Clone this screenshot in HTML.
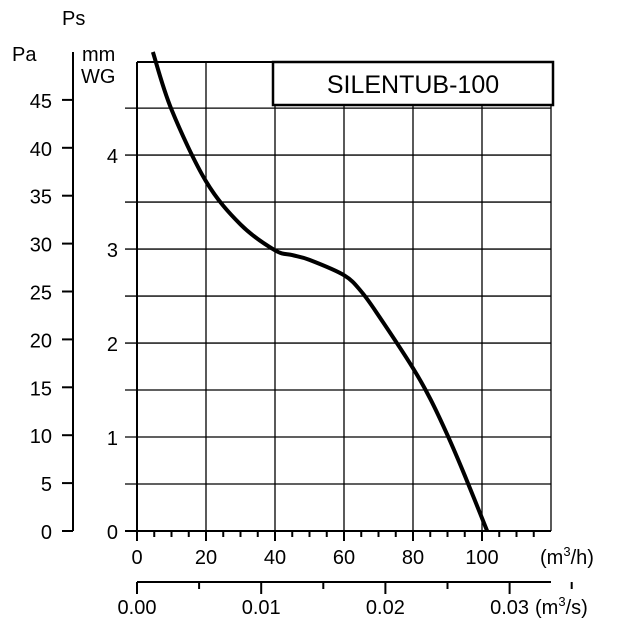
<!DOCTYPE html>
<html><head><meta charset="utf-8"><style>
body{margin:0;background:#fff}
svg text{font-family:"Liberation Sans",sans-serif;fill:#000}
</style></head><body>
<svg width="630" height="630" viewBox="0 0 630 630" id="c"></svg>
<script>
const flowTicks=[0,20,40,60,80,100];
const paTicks=[0,5,10,15,20,25,30,35,40,45];
const mmTicks=[0,1,2,3,4];
const m3sTicks=["0.00","0.01","0.02","0.03"];
const curveFlow=[4.6,10,20,30,40,45,50,60,65,70,80,85,90,95,101.5];
const curvePa=[50,44,36.5,32,29.3,28.8,28.3,26.7,25,22.5,17,13.8,10,5.8,0];
const X0=137,PXU=3.45,Y0=531,PXPA=9.58,MM=9.81;
const sx=v=>X0+v*PXU, sy=p=>Y0-p*PXPA;
const svg=document.getElementById('c');const NS='http://www.w3.org/2000/svg';
function el(t,a,txt){const e=document.createElementNS(NS,t);for(const k in a)e.setAttribute(k,a[k]);if(txt!==undefined)e.textContent=txt;svg.appendChild(e);return e;}
const L=(x1,y1,x2,y2,w,n)=>{const e=el('line',{x1,y1,x2,y2,stroke:'#000','stroke-width':w});return e;};
const T=(x,y,s,size,anchor,n)=>{const e=el('text',{x,y,'font-size':size,'text-anchor':anchor},s);return e;};
const plotTop=62,plotRight=551;
for(let m=0.5;m<5;m+=0.5){const y=sy(m*MM);L(125,y,plotRight,y,1.3,'grid-h');}
for(let i=1;i<=6;i++){const x=sx(i*20);L(x,plotTop,x,Y0,1.3,'grid-v');}
L(X0,plotTop,plotRight,plotTop,2,'plot-top');L(X0,plotTop,X0,Y0,2,'mm-axis');L(125,Y0,plotRight,Y0,2,'x-axis');
mmTicks.forEach(m=>{T(118,sy(m*MM)+8,String(m),20,'end','mm-tick-label');});
L(73,52,73,Y0,2,'pa-axis');
paTicks.forEach(p=>{L(62,sy(p),73,sy(p),2,'pa-tick');T(52,sy(p)+8,String(p),20,'end','pa-tick-label');});
T(12,61,'Pa',20,'start','pa-unit');T(62,25,'Ps',20,'start','ps-label');
T(82,61,'mm',20,'start','mm-unit');T(81,83,'WG',20,'start','wg-unit');
for(let v=0;v<=115;v+=5){L(sx(v),Y0,sx(v),Y0+(v%20===0?10:6),2,'flow-tick');}
flowTicks.forEach(v=>T(sx(v),564,String(v),20,'middle','flow-tick-label'));
const u1=T(540,564,'',20,'start','flow-unit');
u1.innerHTML='(m<tspan font-size="13" dy="-8">3</tspan><tspan dy="8">/h)</tspan>';
L(X0,582,plotRight,582,2,'m3s-axis');
for(let i=0;i<=7;i++){const x=sx(i*0.005*3600);L(x,582,x,i%2===0?594:589,2,'m3s-tick');}
m3sTicks.forEach((s,i)=>T(sx(i*0.01*3600),614,s,20,'middle','m3s-tick-label'));
const u2=T(535,614,'',20,'start','m3s-unit');
u2.innerHTML='(m<tspan font-size="13" dy="-8">3</tspan><tspan dy="8">/s)</tspan>';
const pts=curveFlow.map((f,i)=>[sx(f),sy(curvePa[i])]);
let d='M'+pts[0].join(',');
for(let i=0;i<pts.length-1;i++){const p0=pts[i-1]||pts[i],p1=pts[i],p2=pts[i+1],p3=pts[i+2]||p2;
d+=` C${p1[0]+(p2[0]-p0[0])/6},${p1[1]+(p2[1]-p0[1])/6} ${p2[0]-(p3[0]-p1[0])/6},${p2[1]-(p3[1]-p1[1])/6} ${p2[0]},${p2[1]}`;}
const c=el('path',{d,fill:'none',stroke:'#000','stroke-width':4});

const r=el('rect',{x:273,y:62,width:280,height:43,fill:'#fff',stroke:'#000','stroke-width':2.5});

T(413,93,'SILENTUB-100',25,'middle','chart-title');
</script>
</body></html>
